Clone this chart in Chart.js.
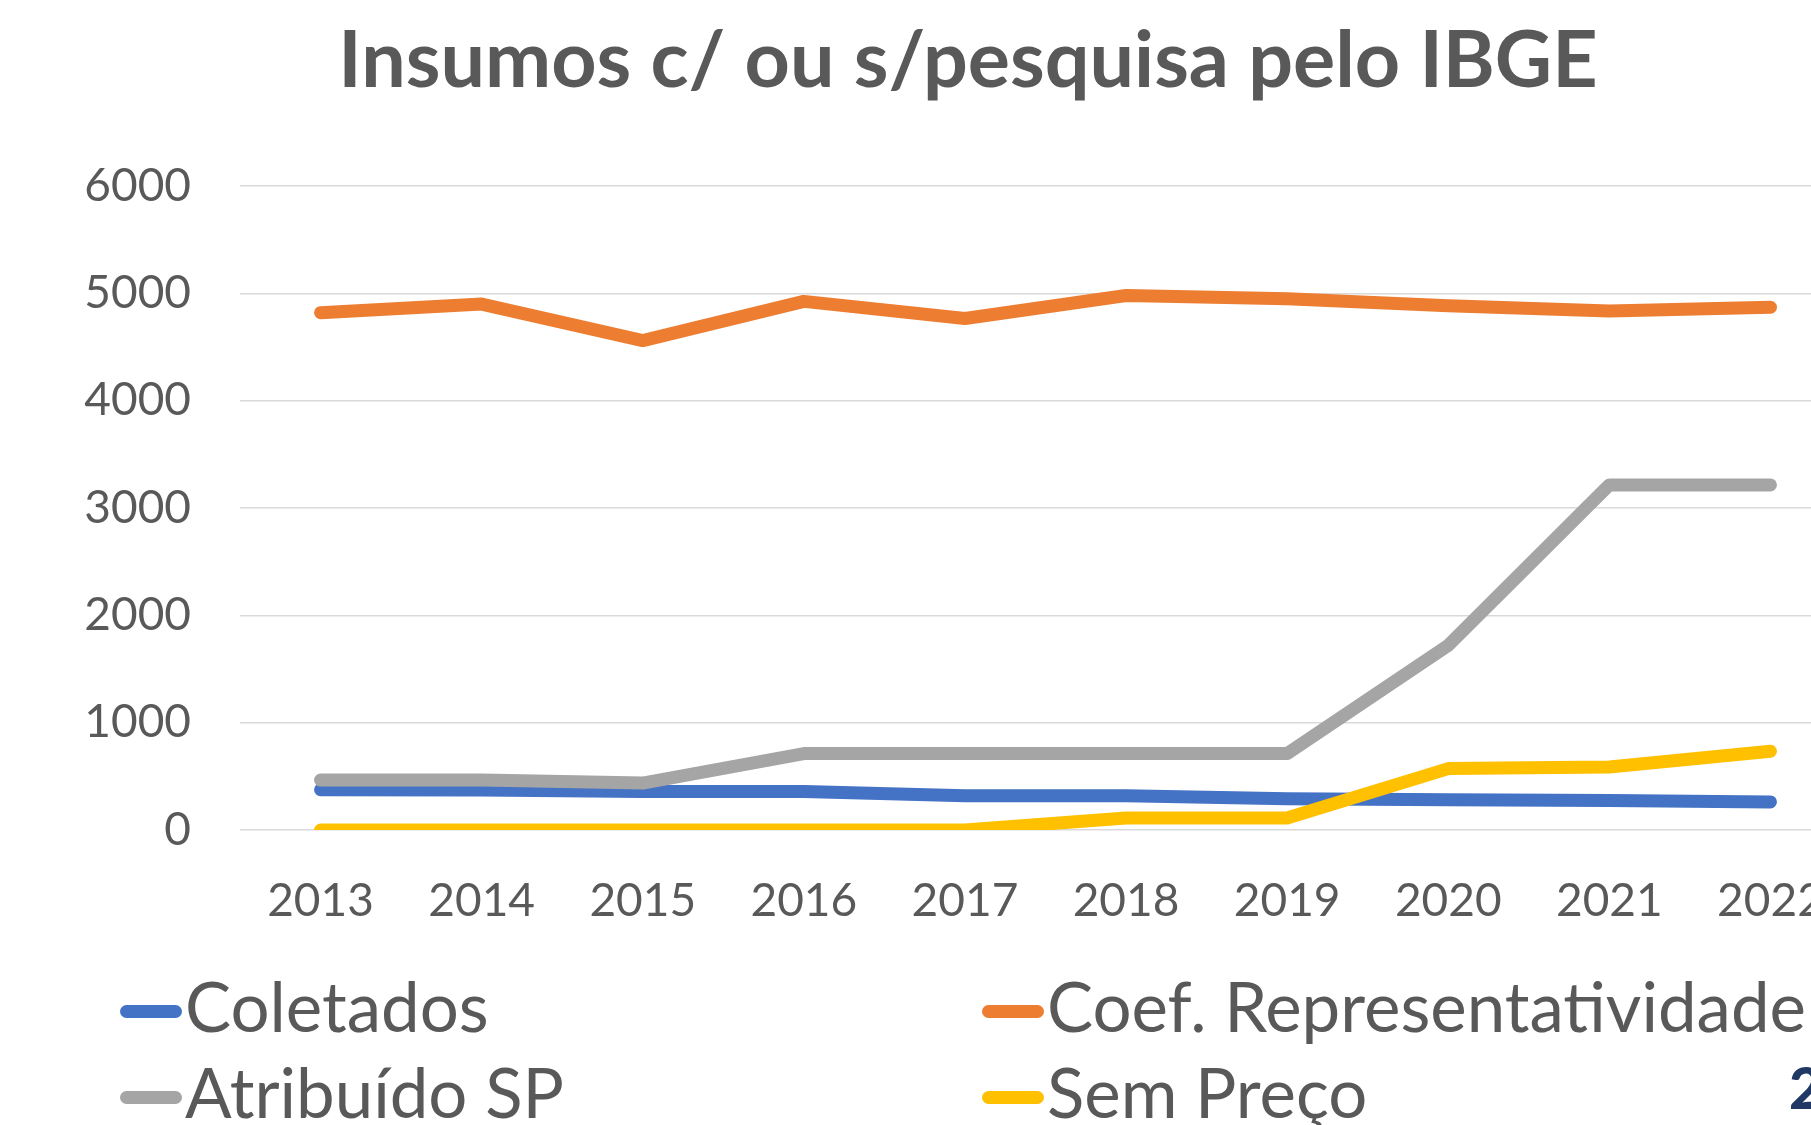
<!DOCTYPE html>
<html>
<head>
<meta charset="utf-8">
<script src="https://cdn.jsdelivr.net/npm/chart.js@4.4.1/dist/chart.umd.min.js"></script>
<style>
    html, body {
        margin: 0;
        padding: 0;
        background: #ffffff;
        width: 1811px;
        height: 1125px;
        overflow: hidden;
        font-family: Lato, sans-serif;
    }
    #chart-box {
        position: absolute;
        left: 0;
        top: 0;
        width: 1936px;
        height: 960px;
    }
    #legend {
        position: absolute;
        left: 120px;
        top: 962px;
        display: grid;
        grid-template-columns: 862px 900px;
        grid-auto-rows: 86px;
        color: #595959;
        font-size: 69px;
    }
    .legend-item {
        display: flex;
        align-items: center;
        white-space: nowrap;
    }
    .legend-line {
        width: 62px;
        height: 13px;
        border-radius: 7px;
        margin-right: 3px;
        margin-top: 12px;
        flex: none;
    }
    #page-num {
        position: absolute;
        left: 1789px;
        top: 1058px;
        font-size: 58px;
        font-weight: 900;
        line-height: 1;
        color: #1f3864;
    }
</style>
</head>
<body>
<div id="chart-box"><canvas id="chart"></canvas></div>
<div id="legend"></div>
<div id="page-num">2</div>
<script>
// Data
const years = ['2013', '2014', '2015', '2016', '2017', '2018', '2019', '2020', '2021', '2022'];
const coletados = [375, 372, 359, 359, 319, 319, 290, 281, 275, 262];
const coefRepresentatividade = [4820, 4900, 4560, 4925, 4765, 4980, 4950, 4885, 4835, 4870];
const atribuidoSP = [465, 465, 437, 712, 712, 712, 712, 1720, 3215, 3215];
const semPreco = [0, 0, 0, 0, 0, 112, 112, 572, 587, 734];
const yTicks = [0, 1000, 2000, 3000, 4000, 5000, 6000];

const textColor = '#595959';

function series(label, data, color, order) {
    return {
        label: label,
        data: data,
        borderColor: color,
        backgroundColor: color,
        borderWidth: 13,
        borderCapStyle: 'round',
        borderJoinStyle: 'round',
        pointRadius: 0,
        pointHoverRadius: 0,
        tension: 0,
        clip: 0,
        order: order
    };
}

const ctx = document.getElementById('chart').getContext('2d');

const chart = new Chart(ctx, {
    type: 'line',
    data: {
        labels: years,
        datasets: [
            series('Coletados', coletados, '#4472c4', 4),
            series('Coef. Representatividade', coefRepresentatividade, '#ed7d31', 3),
            series('Atribuído SP', atribuidoSP, '#a5a5a5', 2),
            series('Sem Preço', semPreco, '#ffc000', 1)
        ]
    },
    options: {
        responsive: true,
        maintainAspectRatio: false,
        animation: false,
        layout: {
            padding: 0
        },
        plugins: {
            legend: { display: false },
            tooltip: { enabled: false },
            title: {
                display: true,
                text: 'Insumos c/ ou s/pesquisa pelo IBGE',
                color: textColor,
                font: { family: 'Lato', size: 79, weight: 'bold' },
                padding: { top: 14, bottom: 77.2 }
            }
        },
        scales: {
            x: {
                offset: true,
                grid: { display: false, drawTicks: false },
                border: { display: false },
                ticks: {
                    color: textColor,
                    font: { family: 'Lato', size: 46 },
                    padding: 44,
                    maxRotation: 0,
                    autoSkip: false
                },
                afterFit: (scale) => {
                    scale.height = 130;
                }
            },
            y: {
                min: 0,
                max: 6000,
                afterBuildTicks: (scale) => {
                    scale.ticks = yTicks.map(v => ({ value: v }));
                },
                grid: { color: '#d9d9d9', lineWidth: 1.5, drawTicks: false },
                border: { display: false },
                ticks: {
                    color: textColor,
                    font: { family: 'Lato', size: 46 },
                    padding: 49,
                    callback: (value) => String(value)
                },
                afterFit: (scale) => {
                    scale.width = 240;
                }
            },
            // empty right axis, only keeps the right margin of the plot
            yRight: {
                position: 'right',
                grid: { display: false, drawTicks: false },
                border: { display: false },
                ticks: { display: false },
                afterFit: (scale) => {
                    scale.width = 85;
                }
            }
        }
    }
});

// Build the legend from the datasets, two columns like the original
const legend = document.getElementById('legend');
chart.data.datasets.forEach(ds => {
    const item = document.createElement('div');
    item.className = 'legend-item';
    const line = document.createElement('span');
    line.className = 'legend-line';
    line.style.background = ds.borderColor;
    const label = document.createElement('span');
    label.textContent = ds.label;
    item.appendChild(line);
    item.appendChild(label);
    legend.appendChild(item);
});
</script>
</body>
</html>
